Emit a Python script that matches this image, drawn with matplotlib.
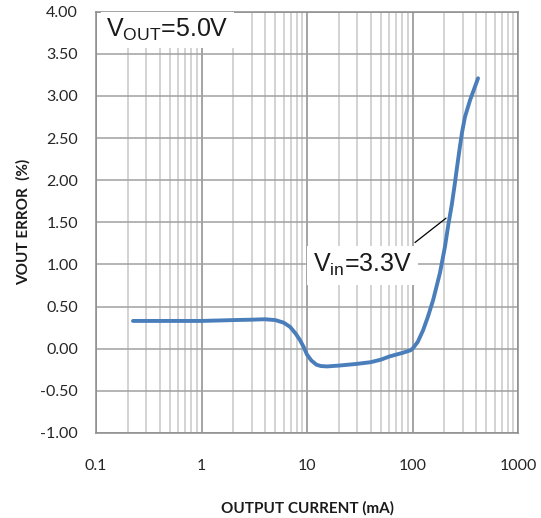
import matplotlib
matplotlib.use('Agg')
import matplotlib.pyplot as plt
import numpy as np
from matplotlib.ticker import LogLocator, FixedLocator, FixedFormatter, NullFormatter

# output current (mA) and Vout error (%)
current = [0.224, 0.3, 0.5, 1.0, 2.0, 3.0, 4.0, 5.0, 6.0, 6.9, 7.8, 8.6, 9.3, 10.0,
           11.0, 12.3, 13.5, 15.4, 20.0, 29.5, 40.0, 50.0, 61.0, 80.0, 95.0, 100.0,
           112.0, 126.0, 140.0, 157.0, 182.0, 203.0, 219.0, 235.0, 250.0, 264.0, 280.0,
           295.0, 314.0, 351.0, 418.0]
error = [0.33, 0.33, 0.33, 0.33, 0.34, 0.345, 0.35, 0.34, 0.31, 0.26, 0.18, 0.10, 0.02, -0.07,
         -0.14, -0.19, -0.205, -0.21, -0.20, -0.18, -0.16, -0.13, -0.09, -0.05, -0.02, 0.0,
         0.08, 0.22, 0.38, 0.58, 0.90, 1.21, 1.48, 1.70, 1.93, 2.15, 2.38,
         2.57, 2.75, 2.95, 3.21]

xticks = [0.1, 1, 10, 100, 1000]
xtick_labels = ['0.1', '1', '10', '100', '1000']
yticks = [-1.0, -0.5, 0.0, 0.5, 1.0, 1.5, 2.0, 2.5, 3.0, 3.5, 4.0]

plt.rcParams['mathtext.fontset'] = 'custom'
plt.rcParams['mathtext.rm'] = 'Liberation Sans'
plt.rcParams['mathtext.it'] = 'Liberation Sans'

fig = plt.figure(figsize=(5.41, 5.18), dpi=100)
ax = fig.add_axes([0.1775, 0.1641, 0.78, 0.8133])

ax.set_xscale('log')
ax.set_xlim(0.1, 1000)
ax.set_ylim(-1.0, 4.0)

ax.xaxis.set_major_locator(FixedLocator(xticks))
ax.xaxis.set_major_formatter(FixedFormatter(xtick_labels))
ax.xaxis.set_minor_locator(LogLocator(base=10, subs=np.arange(2, 10)))
ax.xaxis.set_minor_formatter(NullFormatter())
ax.set_yticks(yticks)
ax.set_yticklabels(['%.2f' % v for v in yticks])

ax.grid(True, which='major', axis='x', color='#8c8c8c', lw=1.1)
ax.grid(True, which='minor', axis='x', color='#c8c8c8', lw=1.1)
ax.grid(True, which='major', axis='y', color='#a0a0a0', lw=1.1)
ax.set_axisbelow(True)

for s in ax.spines.values():
    s.set_color('#8c8c8c')
    s.set_linewidth(1.1)

ax.tick_params(which='both', length=0)
ax.tick_params(axis='y', pad=13, labelsize=11.5, labelcolor='#262626')
ax.tick_params(axis='x', pad=19, labelsize=11.5, labelcolor='#262626')
for lab in ax.get_xticklabels() + ax.get_yticklabels():
    lab.set_family('Lato')

ax.plot(current, error, color='#4a7ebb', lw=2.8, solid_capstyle='round',
        solid_joinstyle='round', zorder=3)

ax.set_xlabel('OUTPUT CURRENT (mA)', family='Lato', fontweight='bold', fontsize=11,
              color='#1a1a1a', labelpad=20)
ax.set_ylabel('VOUT ERROR  (%)', family='Lato', fontweight='bold', fontsize=11,
              color='#1a1a1a', labelpad=7)

ax.text(0.125, 3.78, r'$\mathregular{V_{OUT}}$=5.0V', family='Liberation Sans', fontsize=18,
        color='#1a1a1a', va='center', ha='left', zorder=4,
        bbox=dict(boxstyle='square,pad=0.2', fc='white', ec='none'))

ax.annotate('', xy=(218, 1.57), xytext=(100.5, 1.24),
            arrowprops=dict(arrowstyle='-', color='black', lw=0.9), zorder=4)
ax.text(11.4, 0.99, r'$\mathregular{V_{in}}$=3.3V', family='Liberation Sans', fontsize=18,
        color='#1a1a1a', va='center', ha='left', zorder=4,
        bbox=dict(boxstyle='square,pad=0.25', fc='white', ec='none'))

fig.savefig('out.png', dpi=100)
